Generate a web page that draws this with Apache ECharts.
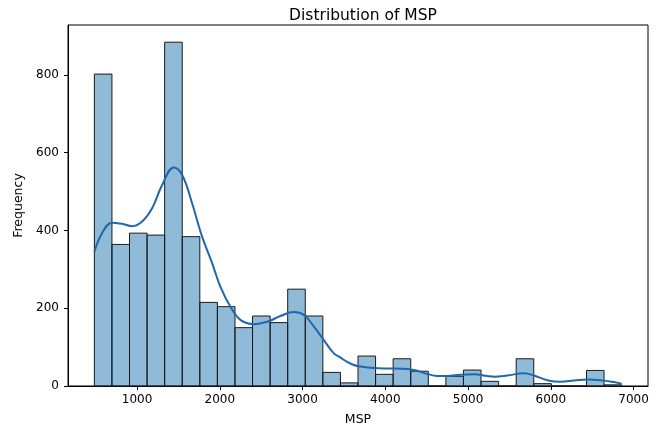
<!DOCTYPE html>
<html>
<head>
<meta charset="utf-8">
<script src="https://cdn.jsdelivr.net/npm/echarts@6/dist/echarts.min.js"></script>
<style>
html,body{margin:0;padding:0;background:#fff;}
#c{width:661px;height:428px;}
</style>
</head>
<body>
<div id="c"></div>
<script>
// Histogram bin range (MSP) and counts
var binStart = 484;
var binEnd = 6856;
var counts = [802, 364, 393, 388, 884, 384, 215, 204, 150, 180, 163, 249, 180, 35, 8, 77, 30, 70, 38, 0, 25, 41, 12, 0, 70, 6, 0, 0, 40, 3];

// KDE curve (scaled to counts)
var kdeX = [484, 577, 698, 819, 940, 1061, 1182, 1303, 1443, 1544, 1665, 1786, 1907, 2008, 2128, 2249, 2410, 2572, 2733, 2894, 3015, 3136, 3257, 3378, 3459, 3540, 3620, 3700, 3861, 4063, 4265, 4386, 4507, 4628, 4749, 4910, 5070, 5232, 5312, 5474, 5675, 5796, 5957, 6119, 6280, 6441, 6603, 6764, 6856];
var kdeY = [345, 393, 420, 417, 411, 423, 457, 517, 562, 543, 470, 384, 316, 255, 204, 170, 159, 165, 180, 190, 183, 153, 118, 84, 73, 62, 54, 50, 46, 45, 44, 39, 31, 26, 26, 29, 30, 26, 24, 27, 33, 27, 15, 11, 14, 17, 15, 10, 6];

var xTicks = [1000, 2000, 3000, 4000, 5000, 6000, 7000];
var yTicks = [0, 200, 400, 600, 800];

var nBins = counts.length;
var binW = (binEnd - binStart) / nBins;
var histData = counts.map(function (c, i) {
  return [binStart + i * binW, binStart + (i + 1) * binW, c];
});
var kdeData = kdeX.map(function (x, i) { return [x, kdeY[i]]; });

var span = binEnd - binStart;
var xMin = binStart - span * 0.05;
var xMax = binEnd + span * 0.05;
var yMax = Math.max.apply(null, counts) * 1.05;

var FONT = 'DejaVu Sans';
var plain = function (v) { return String(v); };
var chart = echarts.init(document.getElementById('c'), null, {renderer: 'canvas'});
chart.setOption({
  animation: false,
  backgroundColor: '#fff',
  title: {
    text: 'Distribution of MSP',
    left: 358, top: 3, textAlign: 'center',
    textStyle: {fontFamily: FONT, fontSize: 15.5, fontWeight: 'normal', color: '#000'}
  },
  grid: {
    left: 68, right: 13, top: 25, bottom: 42,
    outerBoundsMode: 'none', containLabel: false,
    show: true, borderColor: '#000', borderWidth: 1, backgroundColor: 'transparent'
  },
  xAxis: {
    type: 'value', min: xMin, max: xMax,
    name: 'MSP', nameLocation: 'middle', nameGap: 27,
    nameTextStyle: {fontFamily: FONT, fontSize: 12.5, color: '#000'},
    axisLine: {show: true, lineStyle: {color: '#000', width: 1}},
    axisTick: {show: true, length: 4, customValues: xTicks, lineStyle: {color: '#000'}},
    axisLabel: {customValues: xTicks, formatter: plain, fontFamily: FONT, fontSize: 12, color: '#000', margin: 8},
    splitLine: {show: false}
  },
  yAxis: {
    type: 'value', min: 0, max: yMax,
    name: 'Frequency', nameLocation: 'middle', nameGap: 41,
    nameTextStyle: {fontFamily: FONT, fontSize: 12.5, color: '#000'},
    axisLine: {show: true, lineStyle: {color: '#000', width: 1}},
    axisTick: {show: true, length: 4, customValues: yTicks, lineStyle: {color: '#000'}},
    axisLabel: {customValues: yTicks, formatter: plain, fontFamily: FONT, fontSize: 12, color: '#000', margin: 9},
    splitLine: {show: false}
  },
  series: [
    {
      type: 'custom',
      data: histData,
      encode: {x: [0, 1], y: 2},
      renderItem: function (params, api) {
        var p0 = api.coord([api.value(0), api.value(2)]);
        var p1 = api.coord([api.value(1), 0]);
        return {
          type: 'rect',
          shape: {x: p0[0], y: p0[1], width: p1[0] - p0[0], height: p1[1] - p0[1]},
          style: {fill: 'rgba(31,119,180,0.5)', stroke: '#1a1a1a', lineWidth: 1}
        };
      },
      z: 2
    },
    {
      type: 'line',
      data: kdeData,
      smooth: 0.4,
      symbol: 'none',
      lineStyle: {color: '#1f68ac', width: 2},
      z: 3
    }
  ]
});
</script>
</body>
</html>
